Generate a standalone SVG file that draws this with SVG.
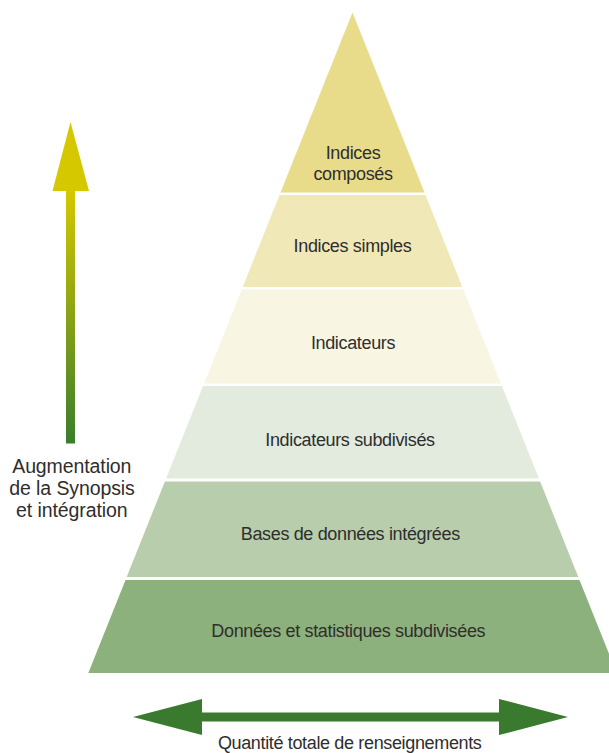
<svg xmlns="http://www.w3.org/2000/svg" width="609" height="753" viewBox="0 0 609 753">
  <style>
    .lbl { font-family: "Liberation Sans", Arial, Helvetica, sans-serif; font-size: 18px; letter-spacing: -0.35px; fill: #2e2e2e; text-anchor: middle; }
    .side { font-family: "Liberation Sans", Arial, Helvetica, sans-serif; font-size: 19.5px; letter-spacing: -0.1px; fill: #2e2e2e; text-anchor: middle; }
  </style>
  <defs>
    <linearGradient id="upGrad" x1="0" y1="0" x2="0" y2="1">
      <stop offset="0" stop-color="#D6C800"/>
      <stop offset="1" stop-color="#3A7D2C"/>
    </linearGradient>
  </defs>
  <rect width="609" height="753" fill="#ffffff"/>

  <g id="layer-indices-composes">
    <polygon points="352.5,12.5 424.5,192.5 280.5,192.5" fill="#E8DC8A"/>
    <text class="lbl" x="353" y="159.3">Indices</text>
    <text class="lbl" x="353" y="180">composés</text>
  </g>
  <g id="layer-indices-simples">
    <polygon points="279.5,195 425.5,195 462.3,287 242.7,287" fill="#F1E8B7"/>
    <text class="lbl" x="352.5" y="252.3">Indices simples</text>
  </g>
  <g id="layer-indicateurs">
    <polygon points="241.7,289.5 463.3,289.5 500.9,383.5 204.1,383.5" fill="#F8F6E3"/>
    <text class="lbl" x="353" y="349.3">Indicateurs</text>
  </g>
  <g id="layer-indicateurs-subdivises">
    <polygon points="203.1,386 501.9,386 538.9,478.5 166.1,478.5" fill="#E3EBDE"/>
    <text class="lbl" x="350" y="446">Indicateurs subdivisés</text>
  </g>
  <g id="layer-bases">
    <polygon points="164.9,481.5 540.1,481.5 578.3,577 126.7,577" fill="#B8CDAC"/>
    <text class="lbl" x="350.3" y="540">Bases de données intégrées</text>
  </g>
  <g id="layer-donnees">
    <polygon points="125.5,580 579.5,580 616.7,673 88.3,673" fill="#8DB17D"/>
    <text class="lbl" x="348.3" y="636.7">Données et statistiques subdivisées</text>
  </g>

  <g id="connectors">
    <g id="arrow-synopsis">
      <rect x="66" y="190" width="9" height="253.5" fill="url(#upGrad)"/>
      <polygon points="70.5,122 89,191 52.5,191" fill="#D6C800"/>
    </g>
    <g id="arrow-quantite">
      <rect x="200" y="712.5" width="301" height="9" fill="#3A7A2E"/>
      <polygon points="133,717 202,699 202,735" fill="#3A7A2E"/>
      <polygon points="568,717 499,699 499,735" fill="#3A7A2E"/>
    </g>
  </g>

  <g id="label-synopsis">
    <text class="side" x="71.8" y="473.3">Augmentation</text>
    <text class="side" x="72" y="495">de la Synopsis</text>
    <text class="side" x="71.8" y="516.7">et intégration</text>
  </g>
  <g id="label-quantite">
    <text class="lbl" x="349.7" y="748.5">Quantité totale de renseignements</text>
  </g>
</svg>
